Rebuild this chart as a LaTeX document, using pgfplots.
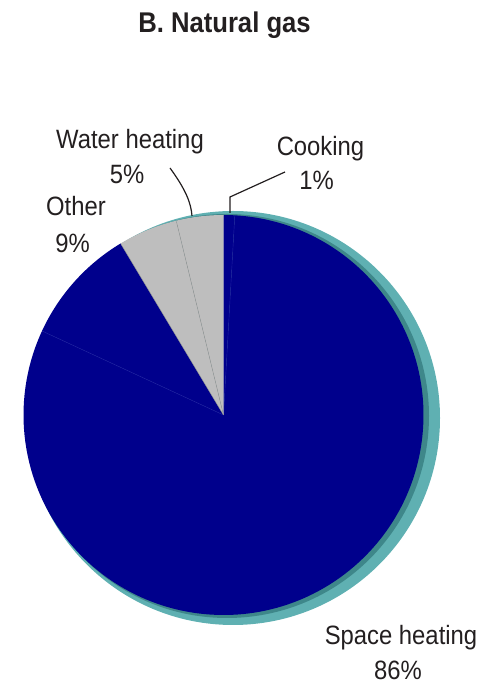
\documentclass[border=0pt]{standalone}
\usepackage{fontspec}
\setmainfont{Liberation Sans}[FakeStretch=0.9]
\usepackage{pgfplots}
\pgfplotsset{compat=1.18}

\definecolor{gasblue}{RGB}{0,0,140}
\definecolor{gasedge}{RGB}{35,35,165}
\definecolor{gasgray}{RGB}{190,190,190}
\definecolor{grayedge}{RGB}{145,145,145}
\definecolor{rimteal}{RGB}{95,176,178}
\definecolor{rimdark}{RGB}{62,135,138}
\definecolor{inkc}{RGB}{35,31,32}

\begin{document}
\begin{tikzpicture}[lab/.style={font=\fontsize{26.5bp}{30bp}\selectfont, text=inkc, anchor=base, inner sep=0pt}]
\begin{axis}[
  hide axis,
  scale only axis,
  width=485bp, height=685bp,
  xmin=0, xmax=485, ymin=-685, ymax=0,
  clip=false,
]
\addplot[draw=none] coordinates {(0,0) (485,-685)};
\path (axis cs:0,0) rectangle (axis cs:485,-685);

% teal rim behind the pie
\fill[rimteal] (axis cs:233,-418) circle[radius=207bp];
\fill[rimdark] (axis cs:227,-416) circle[radius=202bp];

% slices, clockwise from 12 o'clock (percent)
\def\cum{0}
\foreach \v/\c/\e in {0.9/gasblue/gasedge, 81.0/gasblue/gasedge, 9.5/gasblue/gasedge,
                      4.8/gasgray/grayedge, 3.8/gasgray/grayedge}{
  \pgfmathsetmacro\a{90-3.6*\cum}
  \pgfmathsetmacro\b{90-3.6*(\cum+\v)}
  \edef\temp{\noexpand\fill[\c]
    (axis cs:223.5,-415) -- ++(\a:200bp) arc[start angle=\a, end angle=\b, radius=200bp] -- cycle;
    \noexpand\draw[\e, line width=0.4bp] (axis cs:223.5,-415) -- ++(\a:199bp);}
  \temp
  \pgfmathsetmacro\n{\cum+\v}
  \xdef\cum{\n}
}

% leader lines
\draw[inkc, line width=1.2bp] (axis cs:170,-168) .. controls (axis cs:186,-190) and (axis cs:191,-203) .. (axis cs:192,-216);
\draw[inkc, line width=1.2bp] (axis cs:285,-172) -- (axis cs:230,-197) -- (axis cs:230,-213);

% labels
\node[lab] at (axis cs:130,-149) {Water heating};
\node[lab] at (axis cs:127,-184) {5\%};
\node[lab] at (axis cs:76,-216) {Other};
\node[lab] at (axis cs:72.5,-253) {9\%};
\node[lab] at (axis cs:320.5,-156) {Cooking};
\node[lab] at (axis cs:316.5,-190) {1\%};
\node[lab] at (axis cs:401,-645) {Space heating};
\node[lab] at (axis cs:398,-680) {86\%};

% title
\node[font=\fontsize{28.5bp}{34bp}\selectfont\bfseries, text=inkc, anchor=base, inner sep=0pt]
  at (axis cs:224.5,-33) {B. Natural gas};
\end{axis}
\end{tikzpicture}
\end{document}
